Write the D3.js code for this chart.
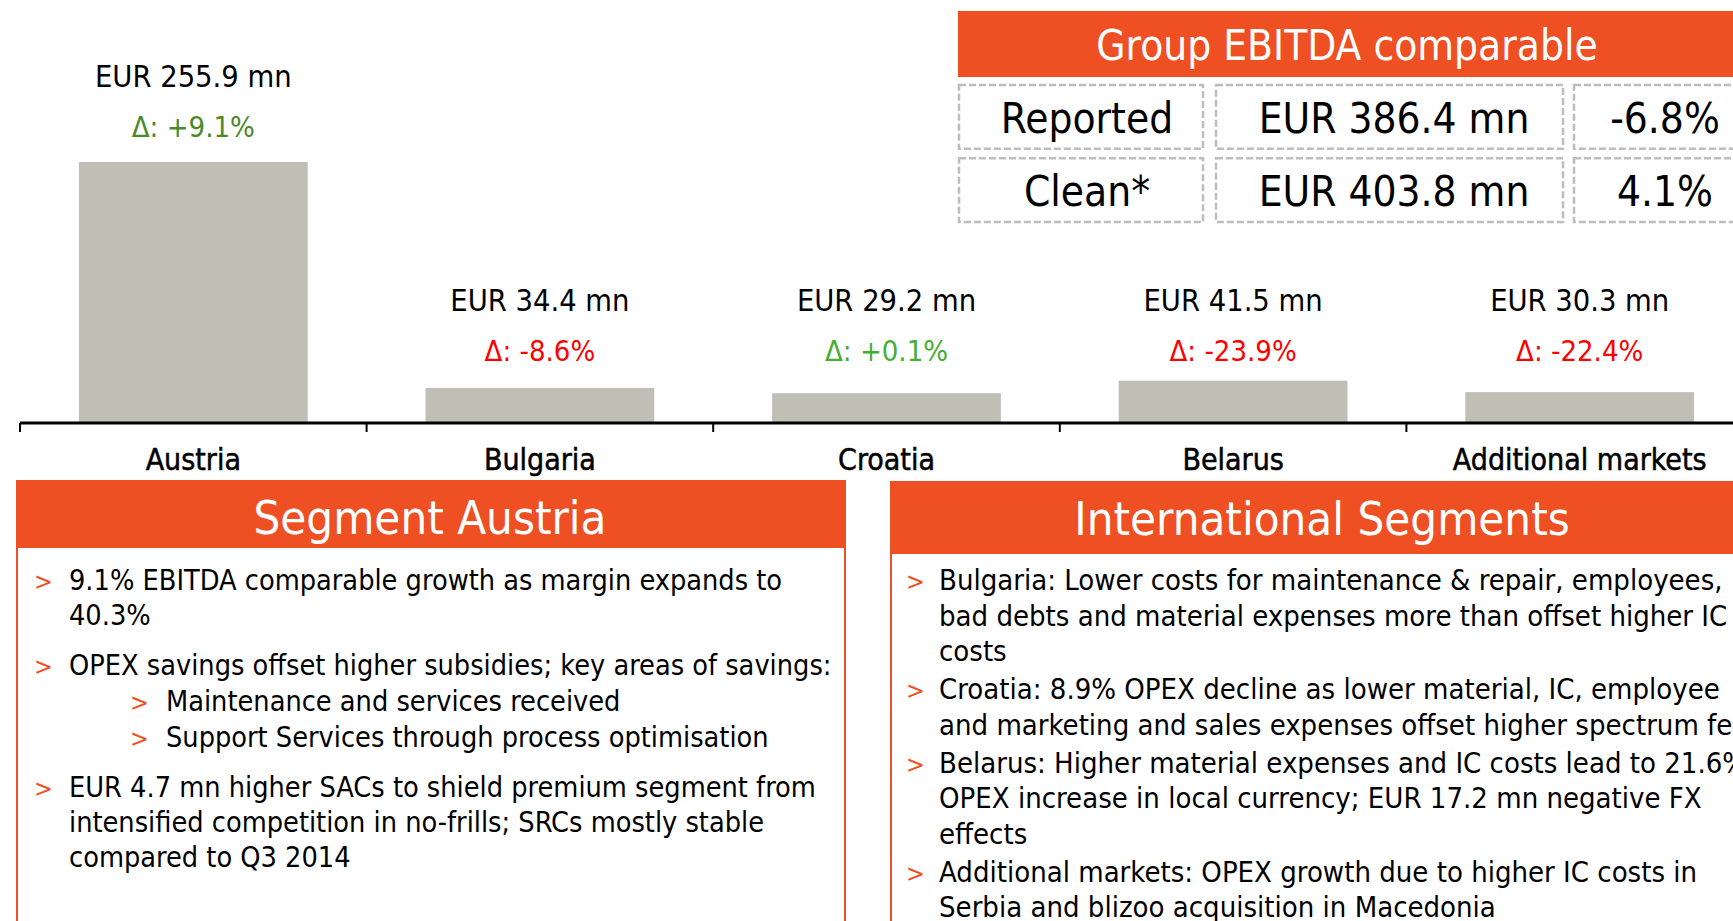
<!DOCTYPE html>
<html>
<head>
<meta charset="utf-8">
<script src="https://cdn.jsdelivr.net/npm/d3@7"></script>
<style>
  body { margin: 0; background: #fff; overflow: hidden; }
  svg text { font-family: 'DejaVu Sans Condensed', 'Liberation Sans Narrow', 'DejaVu Sans', sans-serif; font-stretch: condensed; }
</style>
</head>
<body>
<div id="chart"></div>
<script>
const width = 1733;
const height = 921;

// chart data
const categories = ["Austria", "Bulgaria", "Croatia", "Belarus", "Additional markets"];
const ebitda = [255.9, 34.4, 29.2, 41.5, 30.3];
const deltas = [9.1, -8.6, 0.1, -23.9, -22.4];

const tableTitle = "Group EBITDA comparable";
const tableLabels = ["Reported", "Clean*"];
const tableValues = ["EUR 386.4 mn", "EUR 403.8 mn"];
const tableChanges = ["-6.8%", "4.1%"];

const austriaTitle = "Segment Austria";
const austriaBullets = [
  {level: 0, lines: ["9.1% EBITDA comparable growth as margin expands to", "40.3%"]},
  {level: 0, lines: ["OPEX savings offset higher subsidies; key areas of savings:"]},
  {level: 1, lines: ["Maintenance and services received"]},
  {level: 1, lines: ["Support Services through process optimisation"]},
  {level: 0, lines: ["EUR 4.7 mn higher SACs to shield premium segment from", "intensified competition in no-frills; SRCs mostly stable", "compared to Q3 2014"]}
];

const intlTitle = "International Segments";
const intlBullets = [
  ["Bulgaria: Lower costs for maintenance & repair, employees,", "bad debts and material expenses more than offset higher IC", "costs"],
  ["Croatia: 8.9% OPEX decline as lower material, IC, employee", "and marketing and sales expenses offset higher spectrum fees"],
  ["Belarus: Higher material expenses and IC costs lead to 21.6%", "OPEX increase in local currency; EUR 17.2 mn negative FX", "effects"],
  ["Additional markets: OPEX growth due to higher IC costs in", "Serbia and blizoo acquisition in Macedonia"]
];

const orange = "#ee4f23";

const svg = d3.select("#chart")
  .append("svg")
  .attr("width", width)
  .attr("height", height);

// bar chart
const x = d3.scaleBand()
  .domain(categories)
  .range([20, 1753])
  .padding(0);

const y = d3.scaleLinear()
  .domain([0, 300])
  .range([423, 117]);

const barW = x.bandwidth() * 0.66;

svg.selectAll("rect.bar")
  .data(categories)
  .join("rect")
  .attr("class", "bar")
  .attr("x", d => x(d) + (x.bandwidth() - barW) / 2)
  .attr("y", (d, i) => y(ebitda[i]))
  .attr("width", barW)
  .attr("height", (d, i) => y(0) - y(ebitda[i]))
  .attr("fill", "#bfbfb5");

// axis with labels at band centres, ticks at band edges
const xAxis = svg.append("g")
  .attr("transform", `translate(0,${y(0)})`)
  .call(d3.axisBottom(x).tickSize(0).tickPadding(0));
xAxis.select(".domain").remove();
xAxis.selectAll("text")
  .attr("dy", null)
  .attr("y", 47)
  .attr("fill", "#000")
  .attr("stroke", "#000")
  .attr("stroke-width", 0.5)
  .attr("font-size", 30)
  .attr("font-family", null);

svg.append("line")
  .attr("x1", x.range()[0]).attr("x2", x.range()[1])
  .attr("y1", y(0)).attr("y2", y(0))
  .attr("stroke", "#000").attr("stroke-width", 3);

svg.selectAll("line.tick-edge")
  .data(categories)
  .join("line")
  .attr("class", "tick-edge")
  .attr("x1", d => x(d)).attr("x2", d => x(d))
  .attr("y1", y(0)).attr("y2", y(0) + 9)
  .attr("stroke", "#000").attr("stroke-width", 2);

// tall bars carry their labels just above; short ones share a common label row
const valueLabelY = i => (y(0) - y(ebitda[i]) > 100) ? y(ebitda[i]) - 85 : 301;

svg.selectAll("text.value")
  .data(categories)
  .join("text")
  .attr("class", "value")
  .attr("x", d => x(d) + x.bandwidth() / 2)
  .attr("y", (d, i) => valueLabelY(i) + 10)
  .attr("text-anchor", "middle")
  .attr("font-size", 30.5)
  .attr("fill", "#000")
  .text((d, i) => `EUR ${ebitda[i].toFixed(1)} mn`);

const deltaColor = (d, i) => deltas[i] < 0 ? "#ff0000" : (ebitda[i] > 100 ? "#4a8a2a" : "#45b02f");

svg.selectAll("text.delta")
  .data(categories)
  .join("text")
  .attr("class", "delta")
  .attr("x", d => x(d) + x.bandwidth() / 2)
  .attr("y", (d, i) => valueLabelY(i) + 60)
  .attr("text-anchor", "middle")
  .attr("font-size", 29)
  .attr("fill", deltaColor)
  .text((d, i) => `Δ: ${deltas[i] > 0 ? "+" : ""}${deltas[i].toFixed(1)}%`);

// group EBITDA table
const tbl = svg.append("g");
tbl.append("rect")
  .attr("x", 958).attr("y", 11)
  .attr("width", 820).attr("height", 66)
  .attr("fill", orange);
tbl.append("text")
  .attr("x", 1347).attr("y", 60)
  .attr("text-anchor", "middle")
  .attr("font-size", 42)
  .attr("fill", "#fff")
  .text(tableTitle);

const colX = [958, 1215, 1573];
const colW = [246, 349, 246];
const colCenter = [1087, 1394, 1665];
const rowY = d3.scaleBand().domain(tableLabels).range([84, 223]).paddingInner(0.1);

tableLabels.forEach((label, r) => {
  const cells = [label, tableValues[r], tableChanges[r]];
  cells.forEach((txt, c) => {
    tbl.append("rect")
      .attr("x", colX[c] + 1).attr("y", rowY(label) + 1)
      .attr("width", colW[c] - 2).attr("height", rowY.bandwidth() - 2)
      .attr("fill", "none")
      .attr("stroke", "#bdbdbd")
      .attr("stroke-width", 2.5)
      .attr("stroke-dasharray", "7,3");
    tbl.append("text")
      .attr("x", colCenter[c])
      .attr("y", rowY(label) + 49)
      .attr("text-anchor", "middle")
      .attr("font-size", 42)
      .attr("fill", "#000")
      .text(txt);
  });
});

// text panels
function panel(x0, y0, w, hh, title, titleX) {
  const g = svg.append("g");
  g.append("rect")
    .attr("x", x0).attr("y", y0)
    .attr("width", w).attr("height", 600)
    .attr("fill", "#fff")
    .attr("stroke", orange).attr("stroke-width", 2);
  g.append("rect")
    .attr("x", x0).attr("y", y0)
    .attr("width", w).attr("height", hh)
    .attr("fill", orange);
  g.append("text")
    .attr("x", titleX).attr("y", y0 + 53)
    .attr("text-anchor", "middle")
    .attr("font-size", 47)
    .attr("fill", "#fff")
    .text(title);
  return g;
}

const pa = panel(17, 481, 828, 67, austriaTitle, 430);
let yy = 590;
austriaBullets.forEach((b, i) => {
  if (i > 0) yy += (b.level === 1) ? 36 : 50;
  const bx = b.level === 0 ? 34 : 130;
  const tx = b.level === 0 ? 69 : 166;
  pa.append("text")
    .attr("x", bx).attr("y", yy)
    .attr("font-size", 25)
    .attr("fill", orange)
    .text(">");
  b.lines.forEach((ln, j) => {
    pa.append("text")
      .attr("x", tx).attr("y", yy + j * 35)
      .attr("font-size", 28.6)
      .attr("fill", "#000")
      .text(ln);
  });
  yy += (b.lines.length - 1) * 35;
});

const pi = panel(891, 482, 900, 72, intlTitle, 1322);
let yi = 590;
intlBullets.forEach((lines, i) => {
  if (i > 0) yi += 38;
  pi.append("text")
    .attr("x", 906).attr("y", yi)
    .attr("font-size", 25)
    .attr("fill", orange)
    .text(">");
  lines.forEach((ln, j) => {
    pi.append("text")
      .attr("x", 939).attr("y", yi + j * 35.5)
      .attr("font-size", 29)
      .attr("fill", "#000")
      .text(ln);
  });
  yi += (lines.length - 1) * 35.5;
});
</script>
</body>
</html>
